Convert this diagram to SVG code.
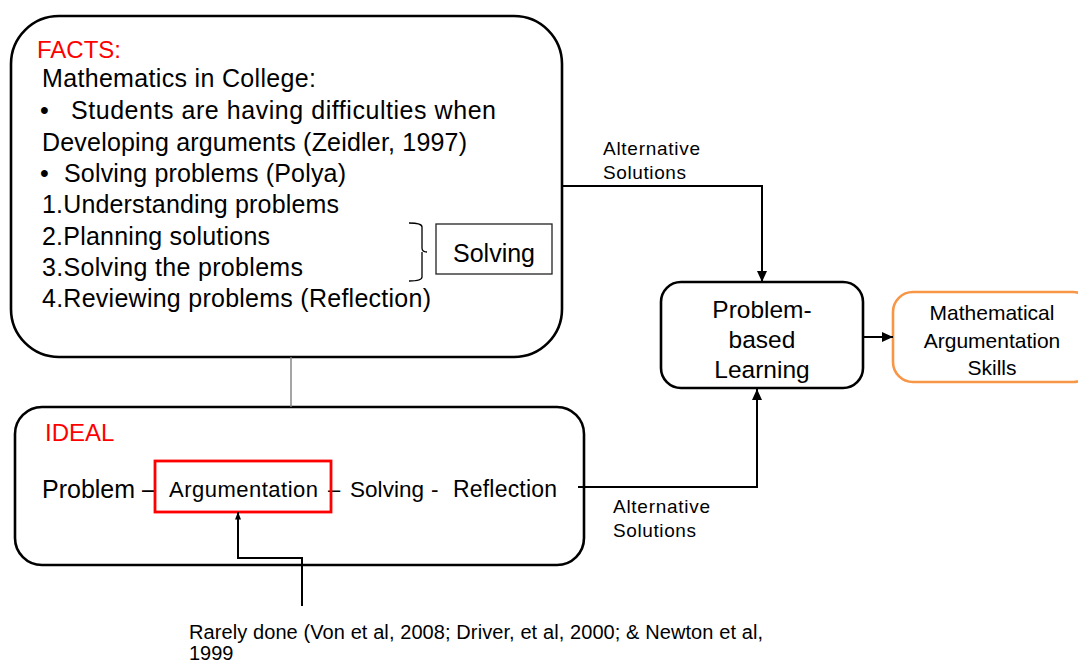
<svg xmlns="http://www.w3.org/2000/svg" width="1078" height="663" viewBox="0 0 1078 663">
<style>
  .box { fill: #ffffff; stroke: #000000; stroke-width: 2.6; }
  .t { font-family: "Liberation Sans", Arial, sans-serif; fill: #000000; }
  .red { fill: #ff0000; }
  .conn { fill: none; stroke: #000000; stroke-width: 2; }
</style>
<defs>
  <marker id="arrow" markerUnits="userSpaceOnUse" markerWidth="12" markerHeight="12" viewBox="0 0 12 12" refX="11" refY="6" orient="auto">
    <path d="M0,1 L11,6 L0,11 Z" fill="#000000"/>
  </marker>
  <marker id="arrowSmall" markerUnits="userSpaceOnUse" markerWidth="8" markerHeight="8" viewBox="0 0 8 8" refX="7.5" refY="4" orient="auto">
    <path d="M0,1 L7.5,4 L0,7 Z" fill="#000000"/>
  </marker>
</defs>
<rect width="1078" height="663" fill="#ffffff"/>

<g id="facts">
  <rect class="box" x="11" y="16" width="551" height="341" rx="48" ry="48"/>
  <text class="t red" x="37" y="58" font-size="24">FACTS:</text>
  <text class="t" x="42" y="87" font-size="25" textLength="274">Mathematics in College:</text>
  <text class="t" x="40" y="119" font-size="25">•</text>
  <text class="t" x="71" y="119" font-size="25" textLength="425">Students are having difficulties when</text>
  <text class="t" x="42" y="151" font-size="25" textLength="425">Developing arguments (Zeidler, 1997)</text>
  <text class="t" x="40" y="182" font-size="25">•</text>
  <text class="t" x="64" y="182" font-size="25" textLength="282">Solving problems (Polya)</text>
  <text class="t" x="42" y="213" font-size="25" textLength="297">1.Understanding problems</text>
  <text class="t" x="42" y="245" font-size="25" textLength="228">2.Planning solutions</text>
  <text class="t" x="42" y="276" font-size="25" textLength="261">3.Solving the problems</text>
  <text class="t" x="42" y="307" font-size="25" textLength="389">4.Reviewing problems (Reflection)</text>
  <path d="M409,223 Q422,223 422,227 V248 Q422,252 427,252 M422,252 Q422,252 422,256 V277 Q422,281 409,281" fill="none" stroke="#000000" stroke-width="1.3"/>
</g>

<g id="solving">
  <rect x="436" y="224" width="116" height="50" fill="#ffffff" stroke="#222222" stroke-width="1.3"/>
  <text class="t" x="494" y="262" font-size="25" text-anchor="middle">Solving</text>
</g>

<g id="ideal">
  <rect class="box" x="15" y="407" width="569" height="158" rx="27" ry="27"/>
  <text class="t red" x="45" y="441" font-size="24">IDEAL</text>
  <text class="t" x="42" y="498" font-size="25">Problem –</text>
  <text class="t" x="328" y="497" font-size="22">–</text>
  <text class="t" x="350" y="497" font-size="22.5" textLength="74">Solving</text>
  <text class="t" x="431" y="497" font-size="22.5">-</text>
  <text class="t" x="453" y="497" font-size="23" textLength="104">Reflection</text>
</g>

<g id="argumentation">
  <rect x="155" y="461" width="176" height="51" fill="none" stroke="#ff0000" stroke-width="2.8"/>
  <text class="t" x="169" y="497" font-size="22" textLength="149">Argumentation</text>
</g>

<g id="pbl">
  <rect class="box" x="661" y="282" width="202" height="106" rx="20" ry="20"/>
  <text class="t" x="762" y="318" font-size="24.5" text-anchor="middle">Problem-</text>
  <text class="t" x="762" y="348" font-size="24.5" text-anchor="middle">based</text>
  <text class="t" x="762" y="378" font-size="24.5" text-anchor="middle">Learning</text>
</g>

<g id="skills">
  <rect x="893" y="292" width="200" height="90" rx="20" ry="20" fill="#ffffff" stroke="#f79646" stroke-width="2.6"/>
  <text class="t" x="992" y="320" font-size="21" text-anchor="middle">Mathematical</text>
  <text class="t" x="992" y="348" font-size="21" text-anchor="middle">Argumentation</text>
  <text class="t" x="992" y="375" font-size="21" text-anchor="middle">Skills</text>
</g>

<g id="note">
  <text class="t" x="189" y="639" font-size="20" textLength="574">Rarely done (Von et al, 2008; Driver, et al, 2000; &amp; Newton et al,</text>
  <text class="t" x="189" y="660" font-size="20">1999</text>
</g>

<g id="connectors">
  <line x1="291" y1="357" x2="291" y2="407" stroke="#7f7f7f" stroke-width="1.4"/>
  <path class="conn" d="M562,186 H762 V282" marker-end="url(#arrow)"/>
  <path class="conn" d="M578,487 H757 V389" marker-end="url(#arrow)"/>
  <path class="conn" d="M863,337 H893" marker-end="url(#arrow)"/>
  <path class="conn" d="M302,606 V558 H238 V512" marker-end="url(#arrowSmall)"/>
  <text class="t" x="603" y="155" font-size="19" textLength="97">Alternative</text>
  <text class="t" x="603" y="179" font-size="19" textLength="83">Solutions</text>
  <text class="t" x="613" y="513" font-size="19" textLength="97">Alternative</text>
  <text class="t" x="613" y="537" font-size="19" textLength="83">Solutions</text>
</g>
</svg>
